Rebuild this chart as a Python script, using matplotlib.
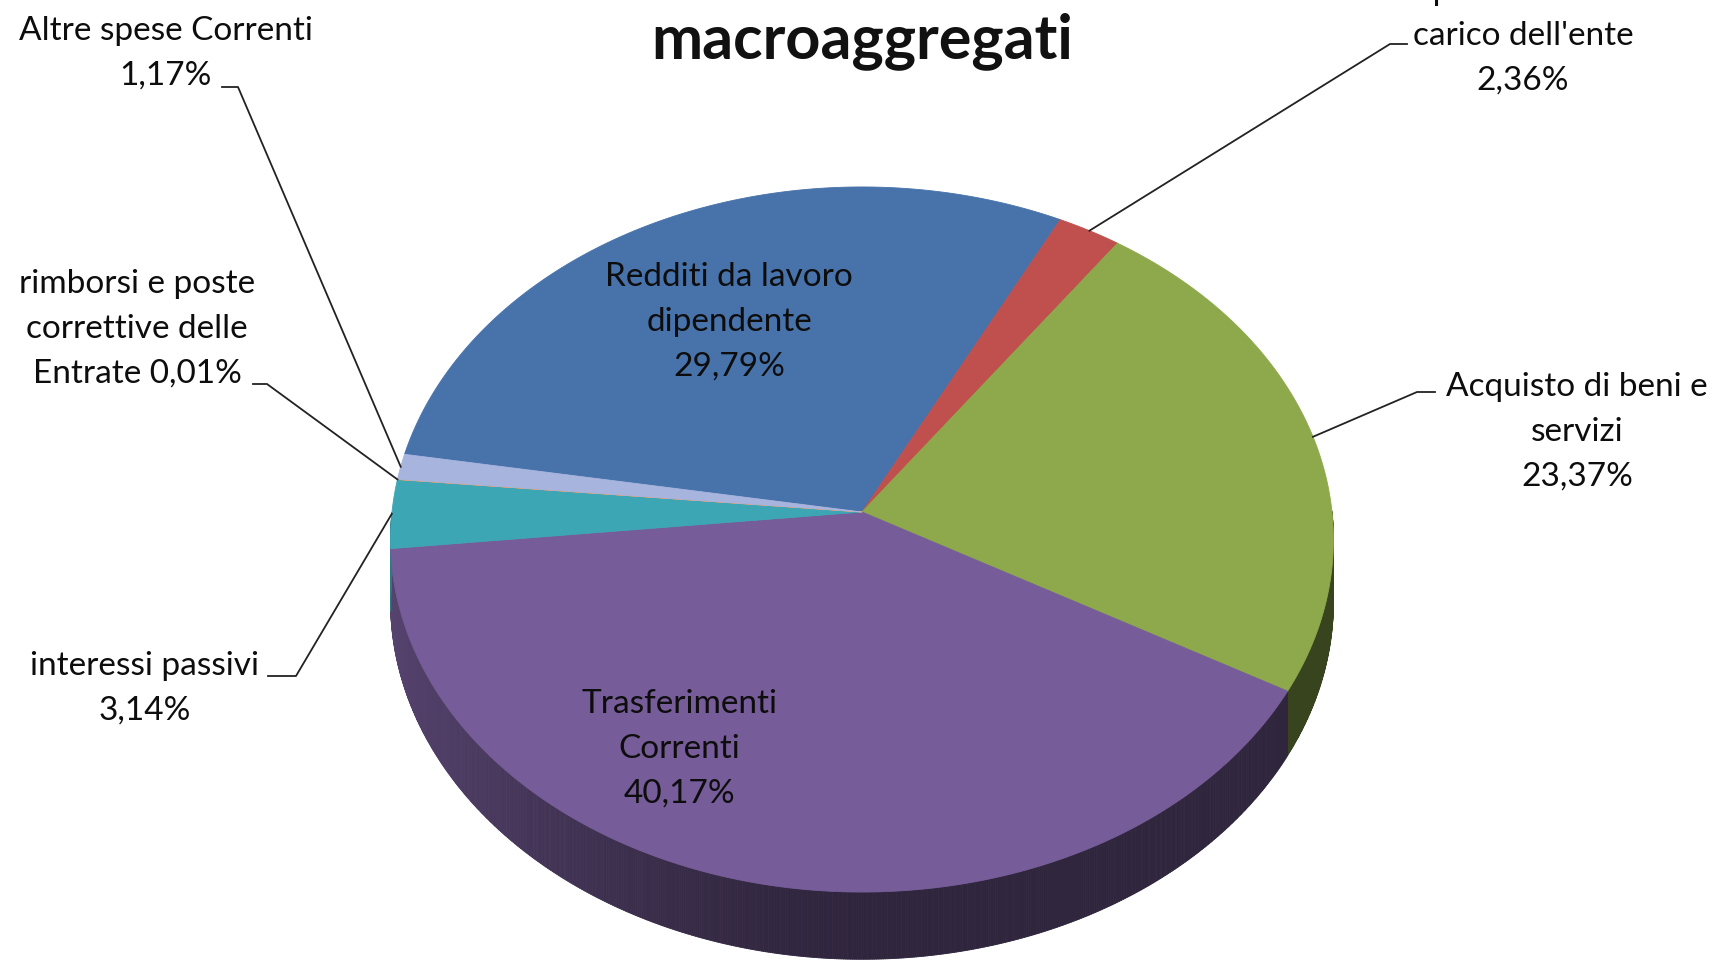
import numpy as np
import matplotlib
matplotlib.use("Agg")
import matplotlib.pyplot as plt
from matplotlib.patches import Polygon
from matplotlib.collections import PolyCollection
from matplotlib.colors import to_rgb

# ---------------- data ----------------
categories = [
    "Redditi da lavoro\ndipendente",
    "Imposte e tasse a\ncarico dell'ente",
    "Acquisto di beni e\nservizi",
    "Trasferimenti\nCorrenti",
    "interessi passivi",
    "rimborsi e poste\ncorrettive delle\nEntrate",
    "Altre spese Correnti",
]
values = [29.79, 2.36, 23.37, 40.17, 3.14, 0.01, 1.17]
value_labels = ["29,79%", "2,36%", "23,37%", "40,17%", "3,14%", "0,01%", "1,17%"]
colors = ["#4872AA", "#C0504D", "#8DA94B", "#765C98", "#3CA6B5", "#F79646", "#A6B4DE"]
title = "macroaggregati"

plt.rcParams['font.family'] = ['Lato', 'DejaVu Sans']

W, H = 1718, 962
fig = plt.figure(figsize=(W / 100, H / 100), dpi=100)
ax = fig.add_axes([0, 0, 1, 1])
ax.set_xlim(0, W)
ax.set_ylim(H, 0)
ax.axis('off')

# ---------------- 3D pie geometry (perspective) ----------------
X0, Y0 = 862.0, 513.0      # projected centre of the pie
A, B = 470.0, 350.4        # horizontal / vertical radii
P = 0.078                  # perspective strength
DEPTH = 62.0               # thickness
START = 170.4              # start angle (deg), clockwise


def proj(phi_deg, depth=0.0):
    ph = np.radians(phi_deg)
    x, y = np.cos(ph), np.sin(ph)
    w = 1 + P * y
    return X0 + A * x / w, Y0 - B * y / w + depth / w


total = sum(values)
spans = [v / total * 360.0 for v in values]
starts = []
a = START
for s in spans:
    starts.append(a)
    a -= s

# side walls (front half only)
for a0, s, col in zip(starts, spans, colors):
    n = max(int(s * 4), 2)
    phis = np.linspace(a0, a0 - s, n)
    polys, fcs = [], []
    base = np.array(to_rgb(col))
    for p1, p2 in zip(phis[:-1], phis[1:]):
        pm = (p1 + p2) / 2
        if np.sin(np.radians(pm)) > 0.001:
            continue
        xt1, yt1 = proj(p1)
        xt2, yt2 = proj(p2)
        xb1, yb1 = proj(p1, DEPTH)
        xb2, yb2 = proj(p2, DEPTH)
        polys.append([(xt1, yt1), (xt2, yt2), (xb2, yb2), (xb1, yb1)])
        c = np.cos(np.radians(pm))
        f = 0.40 + 0.33 * max(0.0, -c) ** 1.5
        fcs.append(np.clip(base * f, 0, 1))
    if polys:
        ax.add_collection(PolyCollection(polys, facecolors=fcs, edgecolors=fcs,
                                         linewidths=0.6, zorder=1))

# top faces
for a0, s, col in zip(starts, spans, colors):
    n = max(int(s * 4), 2)
    phis = np.linspace(a0, a0 - s, n)
    xs, ys = proj(phis)
    pts = [(X0, Y0)] + list(zip(xs, ys))
    ax.add_patch(Polygon(pts, closed=True, facecolor=col, edgecolor=col,
                         linewidth=0.6, zorder=2))


def slice_mid(i):
    return proj(starts[i] - spans[i] / 2)


# ---------------- labels ----------------
FS = 24
LS = 1.62
LC = '#0d0d0d'
kw = dict(ha='center', va='center', fontsize=FS, color=LC, linespacing=LS, zorder=5)

# inner labels
ax.text(729, 322, categories[0] + "\n" + value_labels[0], **kw)
ax.text(679, 749, categories[3] + "\n" + value_labels[3], **kw)

# outer labels
ax.text(1523, 36, categories[1] + "\n" + value_labels[1], **kw)
ax.text(1577, 432, categories[2] + "\n" + value_labels[2], **kw)
ax.text(145, 688, categories[4] + "\n" + value_labels[4], **kw)
ax.text(137, 329, categories[5] + " " + value_labels[5], **kw)
ax.text(166, 53, categories[6] + "\n" + value_labels[6], **kw)

leaders = [
    (1, [(1407, 45), (1390, 45)]),
    (2, [(1435, 393), (1417, 393)]),
    (4, [(268, 677), (296, 677)]),
    (5, [(253, 385), (267, 385)]),
    (6, [(222, 88), (238, 88)]),
]
for idx, pts in leaders:
    ex, ey = slice_mid(idx)
    xs = [p[0] for p in pts] + [ex]
    ys = [p[1] for p in pts] + [ey]
    ax.plot(xs, ys, color='#222222', linewidth=1.3, zorder=4)

ax.text(862, 41, title, ha='center', va='center', fontsize=44, fontweight='bold',
        color='#111111', zorder=5)

fig.savefig("out.png", dpi=100, facecolor='white')
